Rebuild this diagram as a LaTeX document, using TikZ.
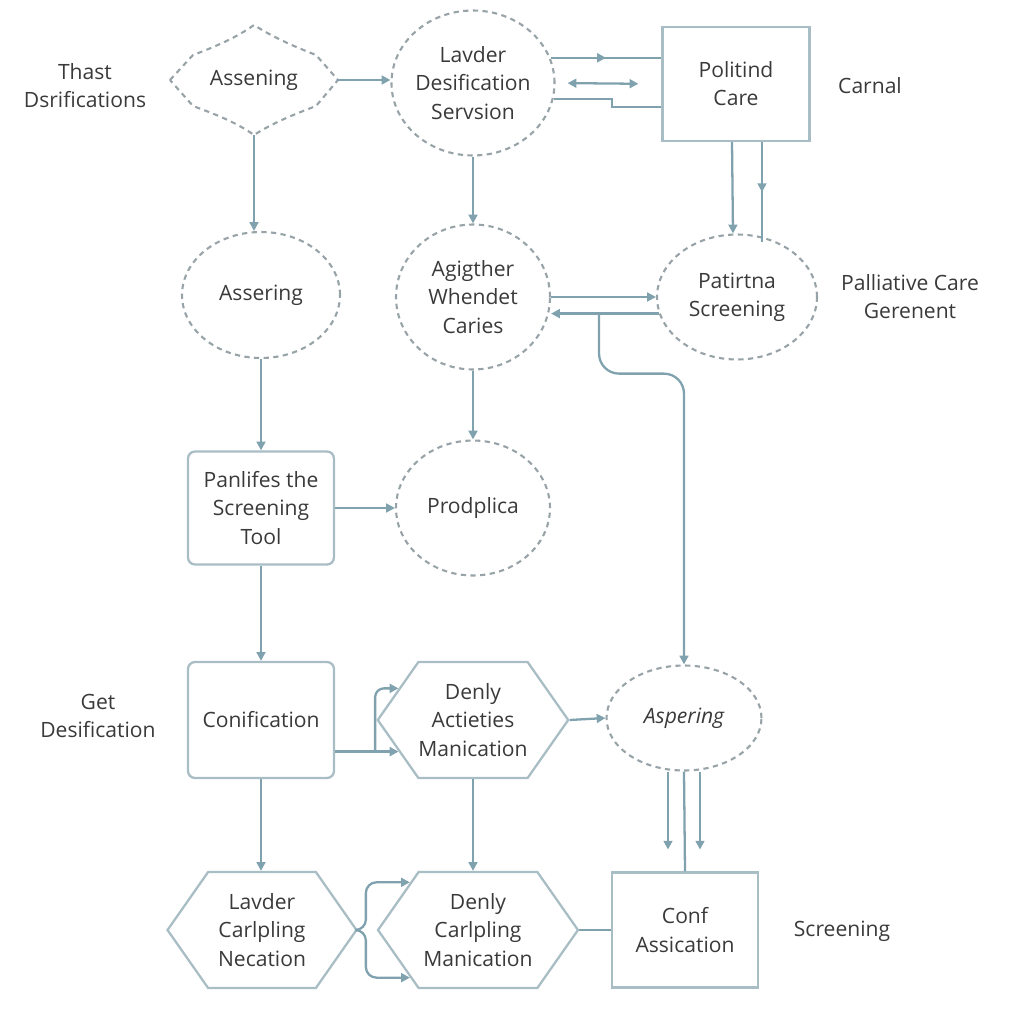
\documentclass[tikz,border=0pt]{standalone}
\usepackage{fontspec}
\setmainfont{Open Sans}
\usetikzlibrary{arrows.meta,shapes.geometric,shapes.symbols,positioning,calc,decorations.markings}

\definecolor{linec}{HTML}{7FA2AE}
\definecolor{boxc}{HTML}{A9BDC4}
\definecolor{dashc}{HTML}{98A3A8}
\definecolor{txtc}{HTML}{3A3A3A}

\tikzset{
	lbl/.style={text=txtc, align=center, font=\fontsize{12}{16}\selectfont},
	dashcirc/.style={lbl, ellipse, inner sep=0pt, draw=dashc, line width=1.2pt, dash pattern=on 3pt off 2.5pt},
	flatbox/.style={lbl, rectangle, inner sep=0pt, draw=boxc, line width=1.3pt},
	roundbox/.style={flatbox, rounded corners=4pt},
	hexbox/.style={lbl, signal, signal to=west and east, signal pointer angle=110, inner sep=0pt, draw=boxc, line width=1.3pt},
	conn/.style={draw=linec, line width=1.3pt},
	arr/.style={conn, -{Triangle[length=5pt,width=5pt]}},
	dblarr/.style={conn, {Triangle[length=5pt,width=5pt]}-{Triangle[length=5pt,width=5pt]}},
	midarrow/.style={postaction={decorate}, decoration={markings, mark=at position 0.5 with {\arrow{Triangle[length=5pt,width=5pt]}}}}
}

\begin{document}
\begin{tikzpicture}[x=0.02cm, y=-0.02cm]
	\useasboundingbox (0,0) rectangle (1024,1024);

	% верхний ряд
	\node [lbl, minimum width=3.36cm, minimum height=2.2cm] (asn) at (254,80) {Assening};
	\draw [draw=dashc, line width=1.2pt, dash pattern=on 3pt off 2.5pt]
		(170,80) -- (193,55) .. controls (212,48) and (236,38) .. (254,25)
		.. controls (274,38) and (298,48) .. (316,55) -- (338,80) -- (316,106)
		.. controls (298,113) and (274,122) .. (254,135)
		.. controls (236,122) and (212,113) .. (193,106) -- cycle;
	\node [dashcirc, minimum width=3.0cm, minimum height=2.9cm] (ldc) at (473,83) {Lavder\\Desification\\Servsion};
	\node [flatbox, minimum width=2.94cm, minimum height=2.28cm] (pc) at (736,84) {Politind\\Care};
	\node [lbl] (thast) at (85,86) {Thast\\Dsrifications};
	\node [lbl] (carnal) at (870,86) {Carnal};

	% второй ряд
	\node [dashcirc, minimum width=3.16cm, minimum height=2.52cm] (asr) at (261,295) {Assering};
	\node [dashcirc, minimum width=3.08cm, minimum height=2.9cm] (agc) at (473,297) {Agigther\\Whendet\\Caries};
	\node [dashcirc, minimum width=3.2cm, minimum height=2.5cm] (pse) at (737,297) {Patirtna\\Screening};
	\node [lbl] (pcg) at (910,297) {Palliative Care\\Gerenent};

	% третий ряд
	\node [roundbox, minimum width=2.92cm, minimum height=2.26cm] (tool) at (261,508) {Panlifes the\\Screening\\Tool};
	\node [dashcirc, minimum width=3.08cm, minimum height=2.7cm] (prd) at (473,508) {Prodplica};

	% четвертый ряд
	\node [lbl] (getd) at (98,716) {Get\\Desification};
	\node [roundbox, minimum width=2.92cm, minimum height=2.32cm] (cnf) at (261,720) {Conification};
	\node [hexbox, minimum width=3.7cm, minimum height=2.32cm] (dam) at (473,720) {Denly\\Actieties\\Manication};
	\node [dashcirc, minimum width=3.1cm, minimum height=2.1cm, font=\fontsize{12}{16}\selectfont\itshape] (asp) at (684,718) {Aspering};

	% нижний ряд
	\node [hexbox, minimum width=3.78cm, minimum height=2.32cm] (lcn) at (262,930) {Lavder\\Carlpling\\Necation};
	\node [hexbox, minimum width=4.0cm, minimum height=2.32cm] (dcm) at (478,930) {Denly\\Carlpling\\Manication};
	\node [flatbox, minimum width=2.92cm, minimum height=2.3cm] (cas) at (685,930) {Conf\\Assication};
	\node [lbl] (scr) at (842,931) {Screening};

	% связи
	\draw [arr] (asn.east) -- (asn.east -| ldc.west);
	\draw [arr] (asn.south) -- (asn.south |- asr.north);
	\draw [arr] (ldc.south) -- (agc.north);
	\draw [conn, midarrow] (ldc.18) -- (ldc.18 -| pc.west);
	\draw [dblarr, shorten <=0.24cm, shorten >=0.46cm] (ldc.east) -- (pc.west);
	\draw [conn] (ldc.-11) -- ++(58,0) |- ([yshift=-0.46cm]pc.west);
	\draw [arr] ([xshift=-0.08cm]pc.south) -- ([xshift=-0.08cm]pse.north);
	\draw [conn, midarrow] ([xshift=0.52cm]pc.south) -- ++(0,100);
	\draw [arr] (agc.east) -- (pse.west);
	\draw [arr] (pse.192) -- (pse.192 -| agc.east);
	\coordinate (br) at ($(pse.192 -| agc.east)+(48,0)$);
	\draw [arr, rounded corners=0.4cm] (br) -- ++(0,60) -| (asp.north);
	\draw [arr] (asr.south) -- (tool.north);
	\draw [arr] (agc.south) -- (prd.north);
	\draw [arr] (tool.east) -- (tool.east -| prd.west);
	\draw [arr] (tool.south) -- (cnf.north);
	\draw [arr] (cnf.east |- dam.203) -- (dam.203);
	\draw [arr, rounded corners=5pt] ($(cnf.east |- dam.203)+(40,0)$) |- (dam.157);
	\draw [arr] (dam.east) -- (asp.west);
	\draw [arr] (dam.south) -- (dam.south |- dcm.north);
	\draw [arr] (cnf.south) -- (cnf.south |- lcn.north);
	\draw [conn] (asp.south) -- (cas.north);
	\draw [arr] ([xshift=-0.32cm]asp.south) -- ++(0,78);
	\draw [arr] ([xshift=0.32cm]asp.south) -- ++(0,78);
	\draw [arr, rounded corners=6pt] (lcn.east) -- ++(8,0) |- (dcm.145);
	\draw [arr, rounded corners=6pt] (lcn.east) -- ++(8,0) |- (dcm.215);
	\draw [conn] (dcm.east) -- (cas.west);
\end{tikzpicture}
\end{document}
